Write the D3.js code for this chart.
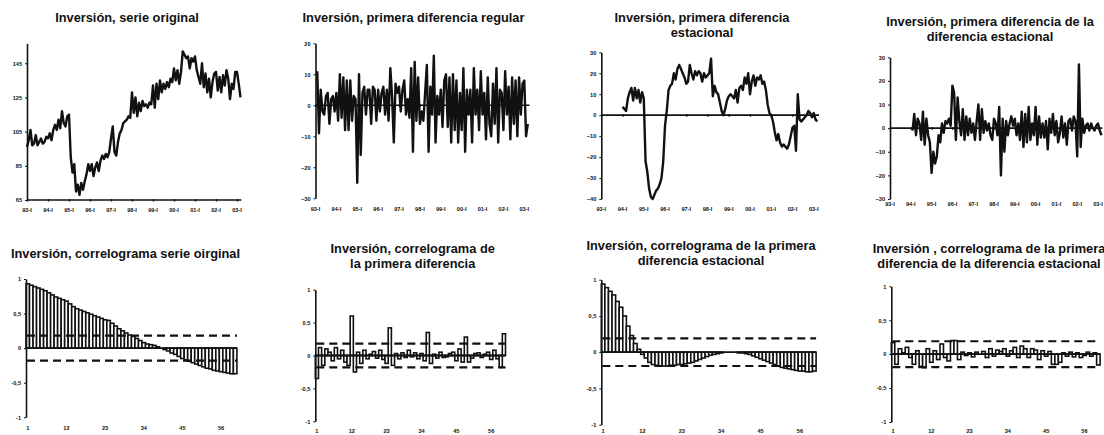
<!DOCTYPE html>
<html>
<head>
<meta charset="utf-8">
<script src="https://cdn.jsdelivr.net/npm/d3@7"></script>
<style>
  html, body { margin: 0; padding: 0; background: #fff; }
  svg { display: block; font-family: "Liberation Sans", Arial, sans-serif; }
  .ttl { font-size: 12.8px; font-weight: bold; fill: #111; text-anchor: middle; }
  .tick text, .lbl { font-size: 5.6px; font-weight: bold; fill: #111; }
</style>
</head>
<body>
<svg id="chart" width="1104" height="435"></svg>
<script>
// Year labels on the monthly axes (one every 12 months)
const yearLabels = ["93-I","94-I","95-I","96-I","97-I","98-I","99-I","00-I","01-I","02-I","03-I"];
const lagLabels = [1, 12, 23, 34, 45, 56];

// Inversión, serie original (monthly, 1993:01 - 2003:03)
const inversion = [
  96, 100, 106, 97, 98, 103, 97, 99, 101, 98, 99, 102,
  101, 104, 100, 106, 109, 106, 112, 107, 117, 110, 108, 114,
  115, 90, 81, 86, 70, 74, 68, 75, 71, 76, 80, 86,
  82, 86, 79, 84, 87, 82, 88, 91, 89, 92, 90, 93,
  101, 108, 93, 91, 99, 104, 106, 110, 111, 112, 114, 113,
  128, 116, 125, 114, 122, 117, 123, 120, 121, 119, 122, 121,
  132, 119, 133, 124, 135, 128, 133, 130, 134, 131, 136, 134,
  142, 135, 141, 133, 140, 152, 150, 148, 149, 142, 148, 146,
  149, 141, 137, 133, 145, 131, 139, 128, 136, 125, 134, 139,
  140, 129, 137, 128, 138, 132, 141, 136, 124, 133, 130, 140,
  140, 133, 125
];

// Primera diferencia regular (1993:02 - 2003:03)
const difRegular = [
  11, -9, 5, -2, -3, 3, 4, -6, 2, 3, -2,
  4, -5, 10, -4, 9, -8, 8, -8, 8, -5, 3, 2,
  -25, 10, -16, 4, 6, -3, 5, 5, -6, 6, 5, -5,
  5, -2, 4, 6, -3, 5, -5, 12, 3, -12, 7, 4,
  6, -2, 5, 8, -3, 2, -4, 12, -15, 14, -5, 9,
  -6, -2, -5, 4, 13, -15, 6, -3, 16, -12, 3, -3,
  5, -7, 8, 10, -7, 9, -12, 10, -8, 8, -12, 4,
  -8, 12, -15, 5, -3, 5, -12, 12, -3, 5, -8, 11,
  -3, 4, -11, 9, -6, -10, 7, -6, 12, -12, 5, 4,
  -8, 11, -3, 6, -11, 9, -6, 8, -10, 9, -3, 7,
  8, -10, -6
];

// Primera diferencia estacional (1994:01 - 2003:03)
const difEstacional = [
  4, 3, 2, 8, 11, 13, 7, 13, 8, 12, 6, 11,
  8, -22, -27, -35, -39, -40, -38, -36, -35, -33, -30, -22,
  -5, 2, 12, 14, 15, 20, 17, 22, 24, 22, 20, 18,
  15, 16, 24, 20, 17, 21, 19, 21, 20, 16, 20, 18,
  19, 20, 27, 9, 14, 11, 10, 6, 2, 0, 3, 7,
  9, 10, 9, 8, 12, 6, 13, 14, 12, 18, 15, 20,
  10, 16, 19, 14, 18, 17, 19, 15, 16, 12, 5, 1,
  0, -3, -8, -12, -9, -13, -15, -14, -15, -16, -14, -10,
  -6, -5, -17, 10, -2, -3, -2, -1, 0, 2, 1, -1,
  1, -2, -3
];

// Primera diferencia de la diferencia estacional (1994:02 - 2003:03)
const difDifEstacional = [
  -1, 6, -3, 4, 2, -5, 7, -7, 4, -3, -6,
  -19, -10, -15, -12, -3, -6, 2, -2, 3, 2, 4, 1,
  18, 15, -5, 13, 3, -3, 8, -5, 5, -3, 4, -2,
  2, -5, 3, 10, -5, 8, -2, 3, -1, 2, -3, -5,
  4, 2, -3, 9, -20, 4, -10, 3, -3, 2, 5, 1,
  4, -3, 2, -5, 7, -8, 6, -6, 9, -5, 2, -3,
  9, -7, 5, -4, 2, -4, 3, -9, 4, -2, 6, -3,
  3, -6, -2, 5, -4, 2, -7, 3, 4, -1, 5, 3,
  -12, 27, -8, 4, -2, 1, 2, -1, 2, 0, -1, 1,
  2, -1, -3
];

// Autocorrelaciones, retardos 1..60
const acfOriginal = [
  0.93, 0.91, 0.89, 0.87, 0.85, 0.83, 0.80, 0.77, 0.74, 0.72,
  0.70, 0.68, 0.64, 0.60, 0.57, 0.55, 0.53, 0.51, 0.49, 0.47,
  0.45, 0.43, 0.41, 0.40, 0.36, 0.32, 0.28, 0.25, 0.22, 0.19,
  0.17, 0.14, 0.11, 0.08, 0.06, 0.05, 0.04, 0.02, 0.00, -0.02,
  -0.04, -0.07, -0.09, -0.12, -0.15, -0.17, -0.19, -0.21, -0.23, -0.25,
  -0.27, -0.29, -0.30, -0.32, -0.33, -0.34, -0.35, -0.36, -0.37, -0.37
];
const acfDifRegular = [
  -0.35, 0.12, -0.15, 0.10, 0.05, -0.08, 0.12, -0.05, 0.08, -0.10,
  -0.15, 0.60, -0.25, 0.05, -0.12, 0.08, -0.05, 0.02, 0.06, -0.04,
  0.08, -0.06, -0.12, 0.42, -0.15, 0.03, -0.05, 0.04, -0.03, 0.08,
  -0.02, 0.04, -0.05, 0.03, -0.08, 0.35, -0.12, 0.02, -0.04, 0.05,
  -0.03, -0.02, 0.03, 0.05, -0.08, 0.10, -0.10, 0.28, -0.10, -0.04,
  0.03, 0.04, -0.03, 0.02, 0.05, -0.06, 0.08, -0.05, -0.18, 0.33
];
const acfDifEstacional = [
  0.94, 0.89, 0.84, 0.79, 0.70, 0.62, 0.50, 0.36, 0.23, 0.12,
  0.04, -0.03, -0.08, -0.14, -0.17, -0.18, -0.19, -0.19, -0.19, -0.18,
  -0.18, -0.17, -0.17, -0.16, -0.15, -0.14, -0.12, -0.10, -0.08, -0.06,
  -0.04, -0.03, -0.02, -0.01, 0.00, 0.00, 0.00, 0.00, -0.01, -0.01,
  -0.02, -0.03, -0.05, -0.07, -0.09, -0.11, -0.13, -0.15, -0.17, -0.19,
  -0.21, -0.22, -0.23, -0.24, -0.25, -0.26, -0.26, -0.27, -0.27, -0.26
];
const acfDifDifEstacional = [
  0.17, -0.15, 0.08, 0.02, 0.10, -0.05, -0.15, 0.05, -0.18, -0.20,
  0.08, -0.12, 0.05, -0.08, 0.15, -0.05, -0.10, 0.20, 0.20, -0.08,
  0.03, -0.02, 0.02, -0.04, 0.03, 0.00, 0.04, -0.05, 0.08, -0.03,
  0.06, 0.04, 0.08, -0.03, 0.05, 0.10, -0.05, 0.12, 0.08, -0.05,
  0.08, 0.06, -0.08, 0.05, -0.03, 0.04, -0.15, -0.15, -0.12, 0.02,
  -0.03, 0.03, -0.04, 0.02, -0.05, -0.02, 0.03, -0.03, 0.02, -0.16
];
// Bandas de confianza (±2/√n)
const bandas = [0.18, 0.18, 0.19, 0.19];

const svg = d3.select("#chart");
const INK = "#111";

function titles(lines, cx, baselines) {
  lines.forEach((t, i) => {
    svg.append("text").attr("class", "ttl").attr("x", cx).attr("y", baselines[i]).text(t);
  });
}

function linePanel(cfg) {
  const x = d3.scaleLinear().domain([0, 120]).range([cfg.x0, cfg.x1]);
  const y = d3.scaleLinear().domain(cfg.yDomain).range([cfg.yB, cfg.yT]);
  const g = svg.append("g");

  // horizontal axis (at the base value) with yearly ticks
  g.append("line")
    .attr("x1", x(0)).attr("x2", x(cfg.xEnd))
    .attr("y1", y(cfg.base)).attr("y2", y(cfg.base))
    .attr("stroke", INK).attr("stroke-width", 1.6);
  g.append("g")
    .attr("transform", `translate(0,${y(cfg.base) - 1})`)
    .call(d3.axisBottom(x).tickValues(d3.range(0, 121, 12)).tickSize(2.5).tickSizeOuter(0).tickFormat(""))
    .call(s => s.select(".domain").remove())
    .call(s => s.selectAll(".tick line").attr("stroke", INK).attr("stroke-width", 1.4));

  g.selectAll("text.xl").data(yearLabels).join("text")
    .attr("class", "lbl xl")
    .attr("x", (d, i) => x(i * 12)).attr("y", cfg.labelY)
    .attr("text-anchor", "middle")
    .text(d => d);

  // vertical axis
  g.append("g")
    .attr("transform", `translate(${cfg.x0},0)`)
    .call(d3.axisLeft(y).tickValues(cfg.yTicks).tickSize(2).tickSizeOuter(0).tickPadding(3).tickFormat(d3.format("d")))
    .call(s => s.select(".domain").attr("stroke", INK).attr("stroke-width", 1.6))
    .call(s => s.selectAll(".tick line").attr("stroke", INK));

  // series
  const line = d3.line().x((d, i) => x(i + cfg.start)).y(d => y(d));
  g.append("path")
    .datum(cfg.values)
    .attr("d", line)
    .attr("fill", "none")
    .attr("stroke", INK)
    .attr("stroke-width", 2.4)
    .attr("stroke-linejoin", "round");
}

function acfPanel(cfg) {
  const lags = d3.range(1, 61);
  const x = d3.scaleBand().domain(lags).range([cfg.x0, cfg.x0 + 60 * cfg.step]).padding(0);
  const y = d3.scaleLinear().domain([-1, 1]).range([cfg.yB, cfg.yT]);
  const g = svg.append("g");

  g.selectAll("rect").data(cfg.values).join("rect")
    .attr("x", (d, i) => x(lags[i]))
    .attr("width", x.bandwidth())
    .attr("y", d => Math.min(y(d), y(0)))
    .attr("height", d => Math.abs(y(d) - y(0)))
    .attr("fill", "#fff")
    .attr("stroke", INK)
    .attr("stroke-width", 1.6);

  g.append("line")
    .attr("x1", cfg.x0).attr("x2", cfg.x0 + 60 * cfg.step)
    .attr("y1", y(0)).attr("y2", y(0))
    .attr("stroke", INK).attr("stroke-width", 1.8);

  [cfg.band, -cfg.band].forEach(b => {
    g.append("line")
      .attr("x1", cfg.x0 + 1).attr("x2", cfg.x0 + 60 * cfg.step)
      .attr("y1", y(b)).attr("y2", y(b))
      .attr("stroke", INK).attr("stroke-width", 2.2)
      .attr("stroke-dasharray", "8,5");
  });

  g.append("g")
    .attr("transform", `translate(${cfg.x0},0)`)
    .call(d3.axisLeft(y).tickValues([-1, -0.5, 0, 0.5, 1]).tickSize(2).tickSizeOuter(0).tickPadding(3)
      .tickFormat(d => String(d).replace(".", ",")))
    .call(s => s.select(".domain").attr("stroke", INK).attr("stroke-width", 1.6))
    .call(s => s.selectAll(".tick line").attr("stroke", INK));

  g.selectAll("text.xl").data(lagLabels).join("text")
    .attr("class", "lbl xl")
    .attr("x", d => x(d) + x.bandwidth() / 2).attr("y", cfg.labelY)
    .attr("text-anchor", "middle")
    .text(d => d);
}

// --- fila superior: series ---
titles(["Inversión, serie original"], 127, [22]);
linePanel({ values: inversion, start: 0, x0: 27, x1: 237, xEnd: 122.5,
  yDomain: [65, 156.7], yB: 200, yT: 43.3, yTicks: [65, 85, 105, 125, 145], base: 65, labelY: 212 });

titles(["Inversión, primera diferencia regular"], 413.5, [22]);
linePanel({ values: difRegular, start: 1, x0: 315.5, x1: 524.3, xEnd: 123,
  yDomain: [-30, 20], yB: 198.3, yT: 43.3, yTicks: [-30, -20, -10, 0, 10, 20], base: 0, labelY: 211 });

titles(["Inversión, primera diferencia", "estacional"], 702, [22, 37]);
linePanel({ values: difEstacional, start: 12, x0: 601.3, x1: 813.7, xEnd: 123,
  yDomain: [-40, 30], yB: 199, yT: 52.3, yTicks: [-40, -30, -20, -10, 0, 10, 20, 30], base: 0, labelY: 211 });

titles(["Inversión, primera diferencia de la", "diferencia estacional"], 990, [26, 41]);
linePanel({ values: difDifEstacional, start: 13, x0: 890, x1: 1098, xEnd: 122.5,
  yDomain: [-30, 30], yB: 199, yT: 57.3, yTicks: [-30, -20, -10, 0, 10, 20, 30], base: 0, labelY: 206 });

// --- fila inferior: correlogramas ---
titles(["Inversión, correlograma serie oirginal"], 125.5, [258]);
acfPanel({ values: acfOriginal, band: bandas[0], x0: 26, step: 3.515, yT: 279, yB: 417.3, labelY: 430 });

titles(["Inversión, correlograma de", "la primera diferencia"], 412.7, [253, 268]);
acfPanel({ values: acfDifRegular, band: bandas[1], x0: 315.3, step: 3.17, yT: 289.7, yB: 421.3, labelY: 432.5 });

titles(["Inversión, correlograma de la primera", "diferencia estacional"], 701, [250, 265]);
acfPanel({ values: acfDifEstacional, band: bandas[2], x0: 601.3, step: 3.58, yT: 279.7, yB: 424.7, labelY: 432.5 });

titles(["Inversión , correlograma de la primera", "diferencia de la diferencia estacional"], 989, [253, 268]);
acfPanel({ values: acfDifDifEstacional, band: bandas[3], x0: 891.3, step: 3.48, yT: 286.3, yB: 422, labelY: 432.5 });
</script>
</body>
</html>
